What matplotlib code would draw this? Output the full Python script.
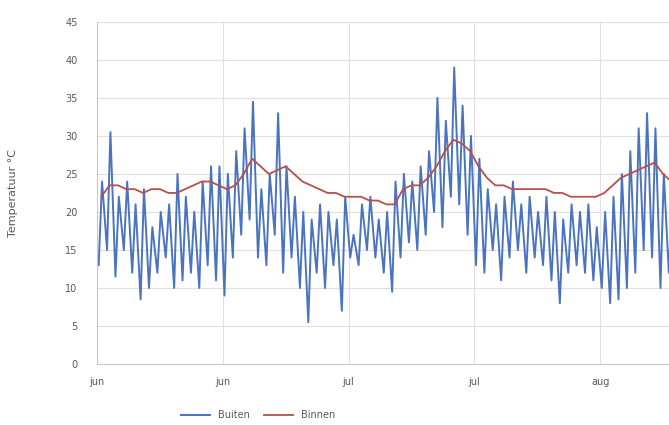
import matplotlib as mpl
mpl.use('Agg')
import matplotlib.pyplot as plt

# daily extremes of the outside temperature (one value per day)
buiten_min = [13, 15, 11.5, 15, 12, 8.5, 10, 12, 14, 10, 11, 12, 10, 13, 11, 9,
              14, 17, 19, 14, 13, 17, 12, 14, 10, 5.5, 12, 10, 13, 7, 14,
              13, 15, 14, 12, 9.5, 14, 16, 15, 17, 20, 18, 22, 21, 17, 13,
              12, 15, 11, 14, 15, 12, 14, 13, 11, 8, 12, 13, 12, 11,
              10, 8, 8.5, 10, 12, 15, 14, 10, 12]
buiten_max = [24, 30.5, 22, 24, 21, 23, 18, 20, 21, 25, 22, 20, 24, 26, 26, 25,
              28, 31, 34.5, 23, 25, 33, 26, 22, 20, 19, 21, 20, 19, 22, 17,
              21, 22, 19, 20, 24, 25, 24, 26, 28, 35, 32, 39, 34, 30, 27,
              23, 21, 22, 24, 21, 22, 20, 22, 20, 19, 21, 20, 21, 18,
              20, 22, 25, 28, 31, 33, 31, 25, 22]
# daily indoor temperature
binnen = [22, 23.5, 23.5, 23, 23, 22.5, 23, 23, 22.5, 22.5, 23, 23.5, 24, 24, 23.5, 23,
          23.5, 25, 27, 26, 25, 25.5, 26, 25, 24, 23.5, 23, 22.5, 22.5, 22, 22,
          22, 21.5, 21.5, 21, 21, 23, 23.5, 23.5, 24.5, 26, 28, 29.5, 29, 28, 26,
          24.5, 23.5, 23.5, 23, 23, 23, 23, 23, 22.5, 22.5, 22, 22, 22, 22,
          22.5, 23.5, 24.5, 25, 25.5, 26, 26.5, 25, 24]
tick_days = [0, 15, 30, 45, 60]
tick_labels = ['jun', 'jun', 'jul', 'jul', 'aug']

t_out = []
v_out = []
for d in range(len(buiten_min)):
	t_out += [d + 0.2, d + 0.6]
	v_out += [buiten_min[d], buiten_max[d]]
t_in = [d + 0.5 for d in range(len(binnen))]

fig = plt.figure(figsize=(6.69, 4.25), dpi=100)
ax = fig.add_axes([0.145, 0.1435, 0.94, 0.805])
ax.plot(t_out, v_out, color='#4A74C0', lw=1.4, label='Buiten')
ax.plot(t_in, binnen, color='#B5504A', lw=1.3, label='Binnen')

ax.set_xlim(0, 75)
ax.set_ylim(0, 45)
ax.set_yticks(range(0, 46, 5))
ax.set_xticks(tick_days)
ax.set_xticklabels(tick_labels)
ax.grid(True, color='#E0E0E0', lw=0.8)
ax.set_axisbelow(True)
for s in ['top', 'right']:
	ax.spines[s].set_visible(False)
for s in ['left', 'bottom']:
	ax.spines[s].set_color('#C8C8C8')
ax.tick_params(axis='x', length=0, labelsize=7, colors='#595959', pad=9)
ax.tick_params(axis='y', length=0, labelsize=7, colors='#595959', pad=14)
ax.set_ylabel('Temperatuur °C', fontsize=8, color='#595959')
ax.yaxis.set_label_coords(-0.125, 0.5)

fig.legend(loc='center', bbox_to_anchor=(258 / 669, 10 / 425), ncol=2, frameon=False,
		   fontsize=7, labelcolor='#595959', handlelength=3, columnspacing=1.5)

plt.savefig('out.png', dpi=100)
